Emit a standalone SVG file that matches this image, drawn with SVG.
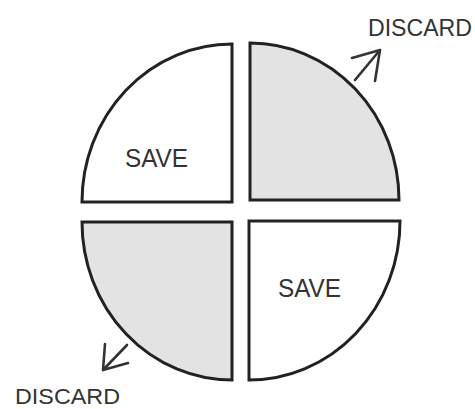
<svg xmlns="http://www.w3.org/2000/svg" width="475" height="409" viewBox="0 0 475 409">
<style>
.q{stroke:#222;stroke-width:3;stroke-linejoin:miter}
.save{fill:#fff}
.disc{fill:#e3e3e3}
.t{font-family:"Liberation Sans",Arial,sans-serif;fill:#333}
.arr{stroke:#333;stroke-width:2.6;fill:none;stroke-linecap:round;stroke-linejoin:round}
</style>
<rect width="475" height="409" fill="#fff"/>
<g id="q-top-left">
<path class="q save" d="M232,202 L232,44 A150,158 0 0 0 82,202 Z"/>
<text class="t" x="125" y="167" font-size="25" textLength="63" lengthAdjust="spacingAndGlyphs">SAVE</text>
</g>
<g id="q-top-right">
<path class="q disc" d="M250,200 L250,43 A149,157 0 0 1 399,200 Z"/>
</g>
<g id="q-bottom-left">
<path class="q disc" d="M232,222 L82,222 A150,158 0 0 0 232,380 Z"/>
</g>
<g id="q-bottom-right">
<path class="q save" d="M249,221 L400,221 A151,159 0 0 1 249,380 Z"/>
<text class="t" x="278" y="297" font-size="26" textLength="63" lengthAdjust="spacingAndGlyphs">SAVE</text>
</g>
<g id="label-discard-top">
<text class="t" x="368" y="36" font-size="24" textLength="104" lengthAdjust="spacingAndGlyphs">DISCARD</text>
</g>
<g id="label-discard-bottom">
<text class="t" x="15" y="404" font-size="22" textLength="105" lengthAdjust="spacingAndGlyphs">DISCARD</text>
</g>
<g id="connectors">
<path class="arr" d="M355,80 L380,50 M352,58 L380,50 L375,81"/>
<path class="arr" d="M127,345 L103,370 M105,344 L103,370 L128,363"/>
</g>
</svg>
